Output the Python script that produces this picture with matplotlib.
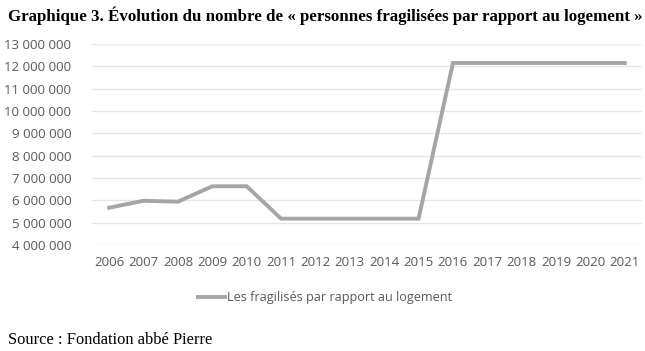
import matplotlib
matplotlib.use("Agg")
import matplotlib.pyplot as plt
from matplotlib.ticker import FuncFormatter

years = [str(y) for y in range(2006, 2022)]
values = [5670000, 5980000, 5940000, 6630000, 6630000, 5180000, 5180000, 5180000,
          5180000, 5180000, 12150000, 12150000, 12150000, 12150000, 12150000, 12150000]
series_name = "Les fragilisés par rapport au logement"
title = "Graphique 3. Évolution du nombre de « personnes fragilisées par rapport au logement »"
source = "Source : Fondation abbé Pierre"

W, H = 645, 351
fig = plt.figure(figsize=(W/100, H/100), dpi=100)
ax = fig.add_axes([92/W, 1-245/H, (642-92)/W, (245-44)/H])

x = list(range(len(years)))
line, = ax.plot(x, values, color="#A5A5A5", linewidth=2.8, solid_joinstyle="miter",
                label=series_name)
ax.set_xlim(-0.5, len(years)-0.5)
ax.set_ylim(4000000, 13000000)
ax.set_yticks(range(4000000, 13000001, 1000000))
ax.yaxis.set_major_formatter(FuncFormatter(lambda v, p: f"{int(v):,}".replace(",", " ")))
ax.set_xticks(x)
ax.set_xticklabels(years)
ax.grid(axis="y", color="#E6E6E6", linewidth=1)
ax.set_axisbelow(True)
for s in ax.spines.values():
    s.set_visible(False)
ax.tick_params(length=0, labelsize=9.5, colors="#595959", pad=8)
for lab in ax.get_xticklabels() + ax.get_yticklabels():
    lab.set_fontfamily("Open Sans")
ax.tick_params(axis="y", pad=15)

fig.text(8/W, 1-16/H, title, fontfamily="Liberation Serif", fontweight="bold",
         fontsize=12.13, va="center", ha="left", color="black")
fig.text(8/W, 1-340/H, source, fontfamily="Liberation Serif", fontsize=11.9,
         va="center", ha="left", color="black")

leg = fig.legend(handles=[line], loc="center", bbox_to_anchor=(325/W, 1-298/H),
                 frameon=False, prop={"family": "Open Sans", "size": 9.05},
                 handlelength=2.2, handletextpad=0.15)
for t in leg.get_texts():
    t.set_color("#595959")

fig.savefig("out.png", dpi=100)
